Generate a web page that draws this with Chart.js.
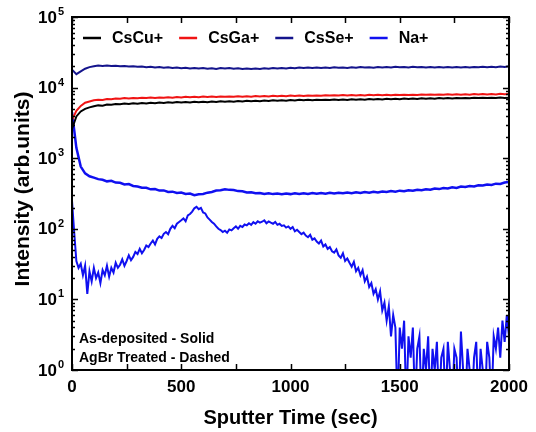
<!DOCTYPE html>
<html>
<head>
<meta charset="utf-8">
<script src="https://cdn.jsdelivr.net/npm/chart.js@4/dist/chart.umd.min.js"></script>
<style>
  html, body { margin: 0; padding: 0; background: #fff; }
  #wrap { width: 536px; height: 432px; }
</style>
</head>
<body>
<div id="wrap"><canvas id="sims" width="536" height="432"></canvas></div>
<script>
// ── Data ──────────────────────────────────────────────────────
const time20 = [0,20,40,60,80,100,120,140,160,180,200,220,240,260,280,300,320,340,360,380,
  400,420,440,460,480,500,520,540,560,580,600,620,640,660,680,700,720,740,760,780,
  800,820,840,860,880,900,920,940,960,980,1000,1020,1040,1060,1080,1100,1120,1140,1160,1180,
  1200,1220,1240,1260,1280,1300,1320,1340,1360,1380,1400,1420,1440,1460,1480,1500,1520,1540,1560,1580,
  1600,1620,1640,1660,1680,1700,1720,1740,1760,1780,1800,1820,1840,1860,1880,1900,1920,1940,1960,1980,2000];

const time10 = [0,10,20,30,40,50,60,70,80,90,100,110,120,130,140,150,160,170,180,190,
  200,210,220,230,240,250,260,270,280,290,300,310,320,330,340,350,360,370,380,390,
  400,410,420,430,440,450,460,470,480,490,500,510,520,530,540,550,560,570,580,590,
  600,610,620,630,640,650,660,670,680,690,700,710,720,730,740,750,760,770,780,790,
  800,810,820,830,840,850,860,870,880,890,900,910,920,930,940,950,960,970,980,990,
  1000,1010,1020,1030,1040,1050,1060,1070,1080,1090,1100,1110,1120,1130,1140,1150,1160,1170,1180,1190,
  1200,1210,1220,1230,1240,1250,1260,1270,1280,1290,1300,1310,1320,1330,1340,1350,1360,1370,1380,1390,
  1400,1410,1420,1430,1440,1450,1460,1470,1480,1490,1500,1510,1520,1530,1540,1550,1560,1570,1580,1590,
  1600,1610,1620,1630,1640,1650,1660,1670,1680,1690,1700,1710,1720,1730,1740,1750,1760,1770,1780,1790,
  1800,1810,1820,1830,1840,1850,1860,1870,1880,1890,1900,1910,1920,1930,1940,1950,1960,1970,1980,1990,2000];

const csCu = [2600,3900,4600,5000,5250,5450,5600,5550,5750,5700,5850,5800,5950,5850,6000,5900,6050,5950,6100,6000,
  6150,6050,6200,6100,6250,6150,6250,6150,6300,6200,6300,6200,6350,6250,6400,6300,6400,6300,6450,6350,
  6500,6400,6500,6400,6550,6450,6600,6500,6600,6500,6650,6550,6700,6600,6700,6600,6750,6650,6750,6650,
  6800,6700,6800,6700,6850,6750,6850,6750,6900,6800,6900,6800,6950,6850,6950,6850,7000,6900,7000,6900,
  7050,6950,7050,6950,7100,7000,7100,7000,7150,7050,7150,7050,7200,7100,7200,7100,7200,7100,7250,7150,7200];

const csGa = [3500,4700,5500,6100,6350,6600,6750,6700,6900,6850,7000,6950,7100,7000,7150,7050,7200,7100,7250,7150,
  7250,7200,7300,7200,7350,7250,7400,7300,7400,7300,7450,7350,7450,7350,7500,7400,7500,7400,7550,7450,
  7550,7450,7600,7500,7600,7500,7650,7550,7650,7550,7700,7600,7700,7600,7750,7650,7750,7650,7800,7700,
  7800,7700,7850,7700,7850,7750,7850,7750,7900,7800,7900,7800,7900,7800,7950,7850,7950,7850,7950,7850,
  8000,7900,8000,7900,8000,7900,8050,7950,8050,7950,8050,7950,8100,8000,8100,8000,8100,8000,8150,8050,8100];

const csSe = [18000,15500,17000,18500,19500,20000,20500,20300,20600,20200,20400,20000,20300,19900,20100,19700,19900,19500,19800,19300,
  19600,19100,19400,19000,19200,18800,19100,18700,19000,18600,18900,18500,18800,18400,18900,18600,19000,18500,18800,18400,
  18700,18300,18600,18400,18800,18500,18900,18600,19000,18700,19100,18800,19200,18900,19300,19000,19200,18900,19300,19000,
  19400,19100,19300,19000,19400,19100,19500,19200,19400,19100,19500,19200,19600,19300,19700,19400,19600,19300,19700,19400,
  19600,19300,19500,19200,19600,19300,19500,19200,19600,19300,19500,19200,19600,19400,19700,19400,19800,19500,19900,19600,20000];

const naHigh = [4500,1400,760,610,555,530,505,495,470,478,452,448,425,430,405,398,382,380,362,366,
  348,350,333,336,322,326,312,316,300,308,312,325,332,348,352,362,356,355,342,340,
  328,330,318,322,312,318,310,316,309,317,310,318,311,319,312,320,313,321,315,323,
  316,325,318,327,320,329,322,332,325,335,328,338,332,342,336,347,340,352,346,358,
  352,364,358,371,365,379,372,387,380,396,390,404,398,414,410,424,418,436,432,452,460];

const naLow = [250,90,35,28,32,22,30,12,25,18,28,20,24,17,26,22,30,21,28,24,
  33,28,31,37,30,35,42,36,40,47,44,52,45,50,58,55,62,68,60,72,
  78,74,85,90,84,100,110,102,118,125,132,140,128,155,162,175,195,205,190,198,
  170,165,145,135,125,118,108,100,96,90,94,88,98,95,102,108,100,110,106,115,
  112,120,114,124,118,128,122,126,132,120,127,122,118,125,114,118,110,112,104,108,
  100,106,92,97,90,84,88,80,76,82,70,73,66,62,68,56,60,52,55,48,
  46,51,42,39,45,35,38,33,29,34,25,28,22,26,18,21,15,17,12,14,
  10,13,7,9,5,8,3,6,4,0.3,4,2,5,0.3,3,1.5,4,0.3,2,3,
  0.3,2,1,3,0.3,2,1,2.5,0.3,1.5,2,0.3,2.5,1,0.3,2,1.5,0.3,3.5,1,
  0.3,2,1,0.3,1.5,2.5,0.3,2,1,0.3,2.5,1.5,0.3,3,2,4,1.5,5,2.5,6,3];

// ── Axis ticks ────────────────────────────────────────────────
const xTickValues  = [0, 500, 1000, 1500, 2000];
const xTickLabels  = ['0', '500', '1000', '1500', '2000'];
const xMinorTicks  = [250, 750, 1250, 1750];
const yTickValues  = [1, 10, 100, 1000, 10000, 100000];
const yTickExps    = ['0', '1', '2', '3', '4', '5'];
const yMinorFactor = [2, 3, 4, 5, 6, 7, 8, 9];

const seriesNames  = ['CsCu+', 'CsGa+', 'CsSe+', 'Na+'];
const seriesColors = ['#000000', '#f01414', '#14148c', '#1010f0'];

const FONT = '"Liberation Sans", Arial, sans-serif';

function pts(xs, ys) { return xs.map((x, i) => ({ x, y: ys[i] })); }

// ── Frame, ticks, labels, legend, notes ───────────────────────
const framePlugin = {
  id: 'frame',
  afterDatasetsDraw(chart) {
    const { ctx, chartArea: a, scales: { x, y } } = chart;
    ctx.save();
    ctx.strokeStyle = '#000';
    ctx.fillStyle   = '#000';

    // ticks (inward, all four sides)
    ctx.lineWidth = 1.5;
    ctx.beginPath();
    xTickValues.concat(xMinorTicks).forEach(v => {
      const px = Math.round(x.getPixelForValue(v)) + 0.5;
      ctx.moveTo(px, a.bottom); ctx.lineTo(px, a.bottom - 6);
      ctx.moveTo(px, a.top);    ctx.lineTo(px, a.top + 6);
    });
    yTickValues.forEach((v, i) => {
      const py = Math.round(y.getPixelForValue(v)) + 0.5;
      ctx.moveTo(a.left, py);  ctx.lineTo(a.left + 6, py);
      ctx.moveTo(a.right, py); ctx.lineTo(a.right - 6, py);
      if (i < yTickValues.length - 1) {
        yMinorFactor.forEach(f => {
          const pm = Math.round(y.getPixelForValue(v * f)) + 0.5;
          ctx.moveTo(a.left, pm);  ctx.lineTo(a.left + 3, pm);
          ctx.moveTo(a.right, pm); ctx.lineTo(a.right - 3, pm);
        });
      }
    });
    ctx.stroke();

    // frame
    ctx.lineWidth = 2;
    ctx.strokeRect(a.left, a.top, a.right - a.left, a.bottom - a.top);

    // x tick labels
    ctx.font = `bold 17px ${FONT}`;
    ctx.textAlign = 'center';
    ctx.textBaseline = 'middle';
    xTickValues.forEach((v, i) => ctx.fillText(xTickLabels[i], x.getPixelForValue(v), a.bottom + 17));

    // y tick labels: 10 with superscript exponent
    yTickValues.forEach((v, i) => {
      const py = y.getPixelForValue(v);
      ctx.font = `bold 11px ${FONT}`;
      ctx.textAlign = 'right';
      ctx.textBaseline = 'alphabetic';
      const ew = ctx.measureText(yTickExps[i]).width;
      ctx.fillText(yTickExps[i], a.left - 8, py - 2);
      ctx.font = `bold 17px ${FONT}`;
      ctx.textBaseline = 'middle';
      ctx.fillText('10', a.left - 9 - ew, py + 1);
    });

    // axis titles
    ctx.font = `bold 20px ${FONT}`;
    ctx.textAlign = 'center';
    ctx.textBaseline = 'alphabetic';
    ctx.fillText('Sputter Time (sec)', (a.left + a.right) / 2, 424);
    ctx.save();
    ctx.font = `bold 21px ${FONT}`;
    ctx.translate(29, 189);
    ctx.rotate(-Math.PI / 2);
    ctx.fillText('Intensity (arb.units)', 0, 0);
    ctx.restore();

    // legend inside the plot
    ctx.font = `bold 16px ${FONT}`;
    ctx.textAlign = 'left';
    ctx.textBaseline = 'middle';
    let lx = 83;
    const ly = 38;
    seriesNames.forEach((name, i) => {
      ctx.strokeStyle = seriesColors[i];
      ctx.lineWidth = 2.5;
      ctx.beginPath(); ctx.moveTo(lx, ly); ctx.lineTo(lx + 18, ly); ctx.stroke();
      ctx.fillStyle = '#000';
      ctx.fillText(name, lx + 29, ly + 1);
      lx += 29 + ctx.measureText(name).width + 16;
    });

    // notes
    ctx.font = `bold 14px ${FONT}`;
    ctx.textBaseline = 'alphabetic';
    ctx.fillText('As-deposited - Solid', 79, 343);
    ctx.fillText('AgBr Treated - Dashed', 79, 362);
    ctx.restore();
  }
};

const line = (data, color, w) => ({
  data, borderColor: color, backgroundColor: color,
  borderWidth: w, pointRadius: 0, tension: 0, clip: 0,
});

new Chart(document.getElementById('sims'), {
  type: 'line',
  data: {
    datasets: [
      line(pts(time20, csCu),   seriesColors[0], 2),
      line(pts(time20, csGa),   seriesColors[1], 2),
      line(pts(time20, csSe),   seriesColors[2], 2),
      line(pts(time20, naHigh), seriesColors[3], 2.5),
      line(pts(time10, naLow),  seriesColors[3], 2),
    ],
  },
  options: {
    responsive: false, animation: false,
    layout: { padding: { left: 72, top: 17, right: 27, bottom: 62 } },
    plugins: { legend: { display: false }, tooltip: { enabled: false } },
    scales: {
      x: { type: 'linear', min: 0, max: 2000, display: false },
      y: { type: 'logarithmic', min: 1, max: 100000, display: false },
    },
  },
  plugins: [framePlugin],
});
</script>
</body>
</html>
